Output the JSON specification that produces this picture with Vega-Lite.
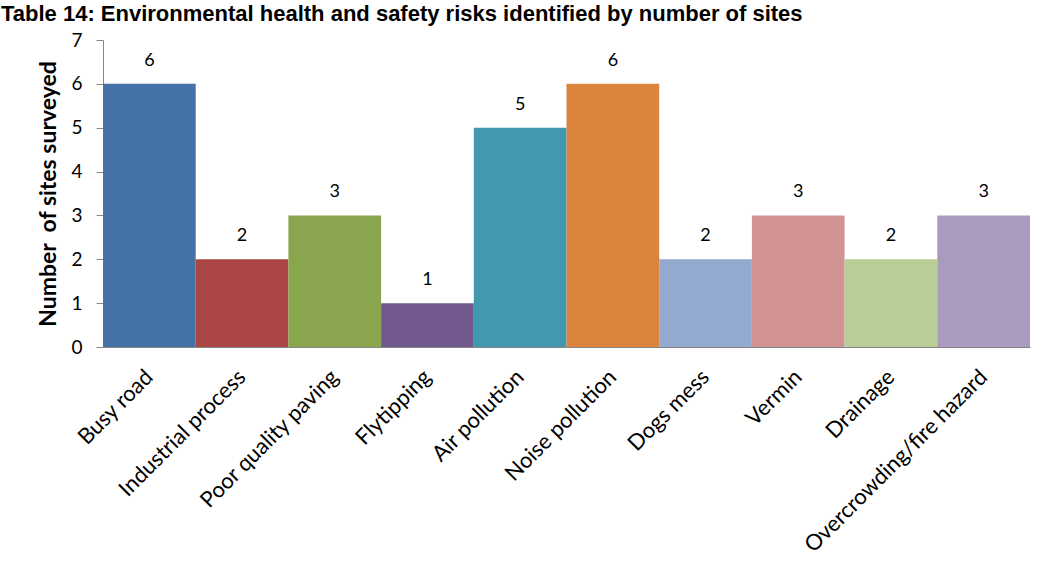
{
  "$schema": "https://vega.github.io/schema/vega-lite/v6.json",
  "width": 927,
  "height": 307,
  "autosize": {"type": "none"},
  "padding": {"left": 103, "top": 40, "right": 9, "bottom": 236},
  "background": "white",
  "title": {
    "text": "Table 14: Environmental health and safety risks identified by number of sites",
    "anchor": "start",
    "frame": "group",
    "font": "Liberation Sans",
    "fontSize": 22,
    "fontWeight": "bold",
    "color": "black",
    "baseline": "top",
    "offset": 0,
    "dx": -102,
    "dy": -5
  },
  "data": {
    "values": [
      {"risk": "Busy road", "sites": 6},
      {"risk": "Industrial process", "sites": 2},
      {"risk": "Poor quality paving", "sites": 3},
      {"risk": "Flytipping", "sites": 1},
      {"risk": "Air pollution", "sites": 5},
      {"risk": "Noise pollution", "sites": 6},
      {"risk": "Dogs mess", "sites": 2},
      {"risk": "Vermin", "sites": 3},
      {"risk": "Drainage", "sites": 2},
      {"risk": "Overcrowding/fire hazard", "sites": 3}
    ]
  },
  "encoding": {
    "x": {
      "field": "risk",
      "type": "nominal",
      "sort": null,
      "scale": {"paddingInner": 0, "paddingOuter": 0},
      "axis": {
        "title": null,
        "labelAngle": -45,
        "labelAlign": "right",
        "labelBaseline": "middle",
        "labelFont": "Lato",
        "labelFontSize": 22,
        "labelColor": "black",
        "labelPadding": 26,
        "ticks": false,
        "domainColor": "#868686",
        "labelLimit": 400
      }
    },
    "y": {
      "field": "sites",
      "type": "quantitative",
      "scale": {"domain": [0, 7]},
      "axis": {
        "title": "Number\u00a0 of sites surveyed",
        "titleFont": "Lato",
        "titleFontSize": 23,
        "titleFontWeight": "bold",
        "titleColor": "black",
        "titlePadding": 10,
        "values": [0, 1, 2, 3, 4, 5, 6, 7],
        "grid": false,
        "labelFont": "Lato",
        "labelFontSize": 19,
        "labelColor": "black",
        "labelPadding": 14,
        "tickColor": "#868686",
        "tickSize": 7,
        "domainColor": "#868686"
      }
    }
  },
  "layer": [
    {
      "mark": {"type": "bar"},
      "encoding": {
        "color": {
          "field": "risk",
          "type": "nominal",
          "sort": null,
          "legend": null,
          "scale": {
            "range": ["#4572A7", "#AA4643", "#89A54E", "#71588F", "#4198AF", "#DB843D", "#93A9CF", "#D19392", "#B9CD96", "#A99BBD"]
          }
        }
      }
    },
    {
      "mark": {"type": "text", "baseline": "bottom", "dy": -14, "font": "Lato", "fontSize": 18, "color": "black"},
      "encoding": {"text": {"field": "sites", "type": "quantitative"}}
    }
  ],
  "config": {"view": {"stroke": null}}
}
